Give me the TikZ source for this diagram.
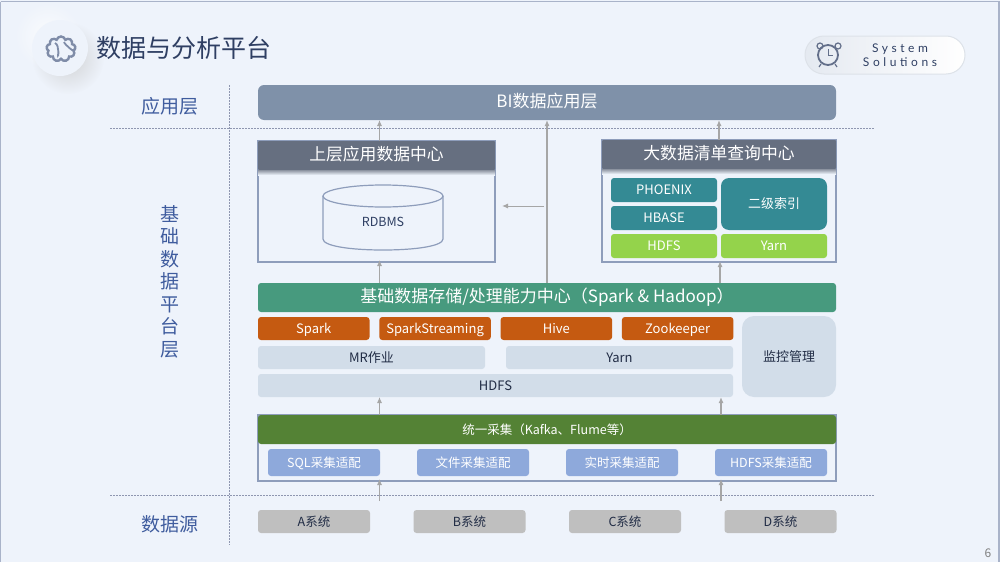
\documentclass[tikz,border=0pt]{standalone}
\usepackage{fontspec}
\usepackage{xcolor}
\setmainfont{Noto Sans CJK SC}
\newfontfamily\spacedfont[LetterSpace=30]{Lato}
\usetikzlibrary{arrows.meta}
\usetikzlibrary{fadings}
\usetikzlibrary{positioning}
\usetikzlibrary{shapes.symbols}
\definecolor{pagebg}{HTML}{EEF3FB}
\definecolor{pageline}{HTML}{A9B3C9}
\definecolor{inkblue}{HTML}{2F3F63}
\definecolor{layerblue}{HTML}{3F5C9E}
\definecolor{iconblue}{HTML}{7F8CA8}
\definecolor{biblue}{HTML}{7F91A9}
\definecolor{headgray}{HTML}{666F80}
\definecolor{frameblue}{HTML}{8E9DBB}
\definecolor{tealbox}{HTML}{348A94}
\definecolor{limebox}{HTML}{94D34B}
\definecolor{storagegreen}{HTML}{479A7E}
\definecolor{orangebox}{HTML}{C55A11}
\definecolor{palebox}{HTML}{D2DDE9}
\definecolor{collectgreen}{HTML}{548235}
\definecolor{adaptblue}{HTML}{8EA9DB}
\definecolor{sourcegray}{HTML}{BFBFBF}
\definecolor{arrowgray}{HTML}{A6A6A6}
\definecolor{dotgray}{HTML}{8E96B0}
\newcommand{\pxfont}[1]{\fontsize{#1}{#1}\selectfont}
\tikzfading[name=softglow, inner color=transparent!25, outer color=transparent!100]
\begin{document}
\begin{tikzpicture}[
		x=1pt, y=-1pt,
		node distance=5pt,
		arrow/.style={arrowgray, line width=1pt, -{Latex[length=6pt, width=5pt]}},
		thick arrow/.style={arrow, line width=1.8pt},
		dotline/.style={dotgray, line width=1pt, dash pattern=on 1.5pt off 1.5pt},
		block/.style={inner sep=0pt, outer sep=0pt, rounded corners=3pt, text=white, font=\pxfont{13}, text height=.94em, text depth=0pt},
		frame/.style={draw=frameblue, line width=1.3pt, inner sep=0pt, outer sep=0pt, anchor=north west},
		head/.style={block, fill=headgray, rounded corners=1pt, font=\pxfont{16.8}, minimum height=29pt, anchor=north west},
		bar/.style={block, minimum width=578pt, font=\pxfont{17}, anchor=north west},
		orange/.style={block, fill=orangebox, minimum width=111.5pt, minimum height=23pt},
		teal/.style={block, fill=tealbox, minimum width=106pt, minimum height=24pt},
		lime/.style={block, fill=limebox, minimum width=106pt, minimum height=24pt},
		pale/.style={block, fill=palebox, text=inkblue!70!black, minimum height=23pt},
		adapt/.style={block, fill=adaptblue, minimum width=112pt, minimum height=27pt, font=\pxfont{12.5}},
		source/.style={block, fill=sourcegray, text=inkblue!70!black, minimum width=112pt, minimum height=23pt, font=\pxfont{12.5}},
		layer/.style={text=layerblue, inner sep=0pt, font=\pxfont{19}},
	]
	\useasboundingbox (0,0) rectangle (1000,562);
	\fill[pagebg] (0,0) rectangle (1000,562);
	\draw[pageline, line width=1.5pt] (0.5,1.5) -- (999,1.5) -- (999,562);
	\draw[pageline, line width=1.5pt] (0.5,1.5) -- (0.5,562);

	% title and corner badge
	\fill[white, path fading=softglow] (48,36) circle (34);
	\fill[black!22, path fading=softglow] (68,58) circle (36);
	\node[circle, fill=pagebg, minimum size=56pt, inner sep=0pt] (icon disc) at (60,48) {};
	\node[cloud, cloud puffs=9, draw=iconblue, line width=2.4pt, minimum width=29pt, minimum height=25pt, inner sep=0pt] (brain) at (61,49) {};
	\draw[iconblue, line width=1.8pt] (brain.center) ++(-6,-6) .. controls +(5,2) and +(0,6) .. +(3,11);
	\draw[iconblue, line width=1.8pt] (brain.center) ++(3,-7) .. controls +(1,3) and +(3,5) .. +(9,7);
	\node[right=8pt of icon disc, inner sep=0pt, text=inkblue, font=\pxfont{25}] (title) {数据与分析平台};

	\node[rounded corners=19pt, draw=pagebg!93!black, line width=1pt, left color=pagebg!96!black, right color=white, minimum width=160pt, minimum height=38pt, inner sep=0pt] (badge) at (885,55) {};
	\node[inner sep=0pt, text=inkblue, font=\pxfont{12}\spacedfont, align=center] (badge text) at (900,55) {System\\[1.5pt]Solutions};
	\node[circle, draw=inkblue!75, line width=1.8pt, minimum size=20pt, inner sep=0pt] (clock) at (828,55) {};
	\draw[inkblue!75, line width=1pt] (clock.center) -- ++(0,-6) (clock.center) -- ++(5,0);
	\draw[inkblue!75, line width=1.2pt] (820,46) circle (3) (838,46) circle (3);
	\draw[inkblue!75, line width=1.2pt] (821,64) -- (819,67) (835,64) -- (837,67);

	% layer rules and captions
	\coordinate (rule top) at (229,85);
	\coordinate (rule bottom) at (229,545);
	\coordinate (app left) at (110,128);
	\coordinate (app right) at (875,128);
	\coordinate (src left) at (110,495);
	\coordinate (src right) at (875,495);
	\draw[dotline] (rule top) -- (rule bottom);
	\draw[dotline] (app left) -- (app right);
	\draw[dotline, line width=.8pt] (src left) -- (src right);
	\node[layer] (app layer) at (170,106) {应用层};
	\node[layer, align=center, execute at begin node={\baselineskip=22.5pt}] (base layer) at (170,281.5) {基\\础\\数\\据\\平\\台\\层};
	\node[layer] (src layer) at (170,524) {数据源};

	% application layer
	\node[bar, fill=biblue, rounded corners=6pt, minimum height=35pt] (bi) at (258,85) {BI数据应用层};

	% left data centre
	\node[frame, minimum width=237pt, minimum height=121pt] (app center) at (258,141) {};
	\node[head, minimum width=237pt] (app head) at (258,141) {上层应用数据中心};
	\shade[top color=headgray!75, bottom color=pagebg] (app head.south west) rectangle ++(237,5);
	\node[inner sep=0pt, outer sep=0pt, minimum width=120pt, minimum height=65pt] (rdbms) at (383,217.5) {};
	\draw[frameblue, line width=1.2pt] ([yshift=-11pt]rdbms.north) ellipse [x radius=60, y radius=11];
	\draw[frameblue, line width=1.2pt] ([yshift=-11pt]rdbms.north west) -- ([yshift=11pt]rdbms.south west) .. controls +(0,7) and +(-33,0) .. (rdbms.south) .. controls +(33,0) and +(0,7) .. ([yshift=11pt]rdbms.south east) -- ([yshift=-11pt]rdbms.north east);
	\node[inner sep=0pt, font=\pxfont{12.5}, text=inkblue] (rdbms text) at (383,222) {RDBMS};

	% right data centre
	\node[frame, minimum width=234pt, minimum height=122pt] (query center) at (602,140) {};
	\node[head, minimum width=234pt] (query head) at (602,140) {大数据清单查询中心};
	\shade[top color=headgray!75, bottom color=pagebg] (query head.south west) rectangle ++(234,5);
	\node[teal, anchor=north west] (phoenix) at (611,178) {PHOENIX};
	\node[teal, below=4pt of phoenix] (hbase) {HBASE};
	\node[lime, below=4pt of hbase] (query hdfs) {HDFS};
	\node[lime, right=4pt of query hdfs] (query yarn) {Yarn};
	\node[block, fill=tealbox, rounded corners=8pt, minimum width=106pt, minimum height=52pt, anchor=north west] (index) at (721,178) {二级索引};

	% storage and processing
	\node[bar, fill=storagegreen, minimum height=29pt] (storage) at (258,283) {基础数据存储/处理能力中心（Spark \& Hadoop）};
	\node[orange, anchor=north west] (spark) at (258,317) {Spark};
	\node[orange, right=9.8pt of spark] (streaming) {SparkStreaming};
	\node[orange, right=9.8pt of streaming] (hive) {Hive};
	\node[orange, right=9.8pt of hive] (zookeeper) {Zookeeper};
	\node[pale, minimum width=227pt, anchor=north west] (mr) at (258,346) {MR作业};
	\node[pale, minimum width=227pt, right=21pt of mr] (yarn) {Yarn};
	\node[pale, minimum width=475pt, anchor=north west] (hdfs) at (258,374) {HDFS};
	\node[block, fill=palebox, text=inkblue!70!black, rounded corners=12pt, minimum width=94pt, minimum height=81pt, anchor=north west] (monitor) at (742,316) {监控管理};

	% collection
	\node[frame, minimum width=578pt, minimum height=66pt] (collect frame) at (258,415) {};
	\node[bar, fill=collectgreen, minimum height=29pt, font=\pxfont{12.5}] (collect) at (258,415) {统一采集（Kafka、Flume等）};
	\node[adapt, anchor=north west] (sql) at (268,449) {SQL采集适配};
	\node[adapt, right=37pt of sql] (file) {文件采集适配};
	\node[adapt, right=37pt of file] (realtime) {实时采集适配};
	\node[adapt, right=37pt of realtime] (hdfs adapt) {HDFS采集适配};

	% source systems
	\node[source, anchor=north west] (sys a) at (258,510) {A系统};
	\node[source, right=43.5pt of sys a] (sys b) {B系统};
	\node[source, right=43.5pt of sys b] (sys c) {C系统};
	\node[source, right=43.5pt of sys c] (sys d) {D系统};

	\node[inner sep=0pt, text=black!50, font=\pxfont{12}] (page no) at (988,553) {6};

	% connectors
	\coordinate (tap mid) at (544,206);
	\coordinate (tap end) at (502,206);
	\coordinate (src feed a) at (379.5,501);
	\coordinate (src feed b) at (721,501);
	\draw[arrow] ([xshift=3pt]app center.north) -- ([xshift=3pt]app center.north |- bi.south);
	\draw[thick arrow] (storage) -- (bi);
	\draw[arrow, line width=1.4pt] (query center.north) -- (query center.north |- bi.south);
	\draw[arrow] (tap mid) -- (tap end);
	\draw[arrow] ([xshift=3pt]storage.north -| app center.south) -- ([xshift=3pt,yshift=2pt]app center.south);
	\draw[arrow, line width=1.4pt] ([xshift=1pt]storage.north -| query center.south) -- ([xshift=1pt,yshift=1pt]query center.south);
	\draw[arrow] (collect.north -| src feed a) -- (hdfs.south -| src feed a);
	\draw[arrow, line width=1.4pt] (collect.north -| src feed b) -- (hdfs.south -| src feed b);
	\draw[arrow] (src feed a) -- ([yshift=2pt]collect frame.south -| src feed a);
	\draw[arrow, line width=1.4pt] (src feed b) -- ([yshift=2pt]collect frame.south -| src feed b);
\end{tikzpicture}
\end{document}
